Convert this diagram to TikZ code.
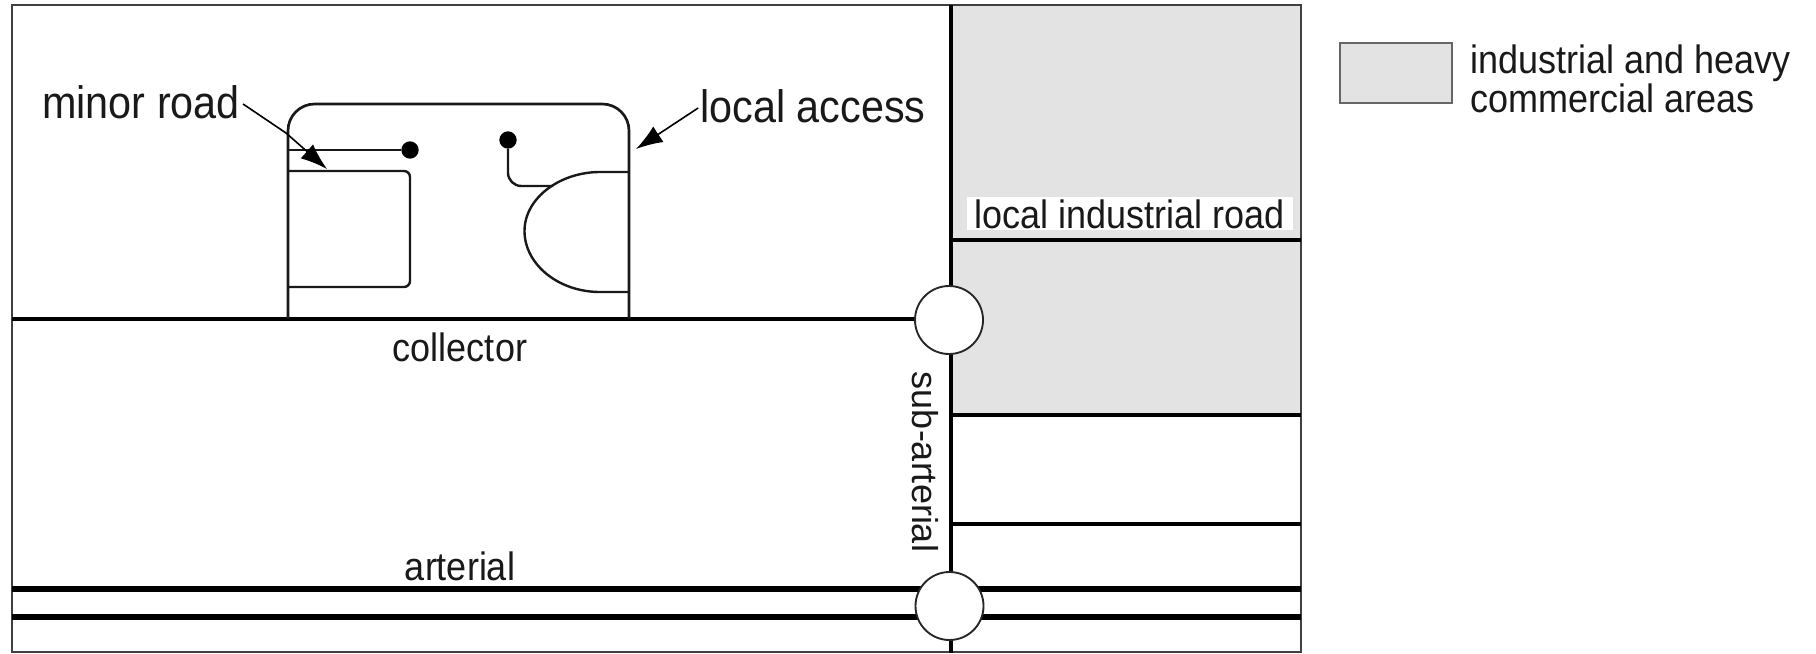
\documentclass[tikz,border=0pt]{standalone}
\usepackage{fontspec}
\setmainfont{Liberation Sans}
\usetikzlibrary{arrows.meta}
\tikzset{
  lbl/.style={inner sep=0pt,font=\fontsize{27}{27}\selectfont,text=black!90,yscale=1.1,transform shape},
  biglbl/.style={lbl,font=\fontsize{31}{31}\selectfont},
  sidelbl/.style={inner sep=0pt,font=\fontsize{27}{27}\selectfont,text=black!90,rotate=-90},
  frameline/.style={line width=1.6pt,draw=black!75},
  road/.style={line width=2pt,draw=black!90},
  mainroad/.style={line width=3pt,draw=black},
  artroad/.style={line width=4pt,draw=black},
  midroad/.style={line width=2.7pt,draw=black},
  thinroad/.style={line width=1.8pt,draw=black!90},
  area/.style={fill=black!11,draw=none},
  junction/.style={circle,draw=black!85,line width=1.4pt,fill=white,minimum size=51pt,inner sep=0pt},
  stub/.style={circle,fill=black,inner sep=0pt,minimum size=13pt},
  pointer/.style={line width=1.2pt,draw=black,-{Latex[length=20pt,width=14pt]}}
}
\begin{document}
\begin{tikzpicture}[x=0.75pt,y=-0.75pt]
\useasboundingbox (0,0) rectangle (1816,653);
\fill[white] (0,0) rectangle (1816,653);
% shaded areas
\fill[area] (951,5) rectangle (1301,415);
\fill[area] (1340,43) rectangle (1452,103);
\draw[frameline,draw=black!60] (1340,43) rectangle (1452,103);
% white label backing
\node[fill=white,inner sep=0pt,minimum width=244.5pt,minimum height=25pt] (lirbg) at (1130,213.5) {};
% frame
\coordinate (tl) at (12,5); \coordinate (tr) at (1301,5);
\coordinate (bl) at (12,652); \coordinate (br) at (1301,652);
\draw[frameline] (tl) -- (tr) -- (br) -- (bl) -- cycle;
% main roads
\coordinate (vt) at (951,5); \coordinate (vb) at (951,653);
\draw[mainroad] (vt) -- (vb);
\coordinate (cl) at (12,319); \coordinate (cr) at (951,319);
\draw[mainroad] (cl) -- (cr);
\coordinate (a1l) at (12,589); \coordinate (a1r) at (1301,589);
\coordinate (a2l) at (12,617); \coordinate (a2r) at (1301,617);
\draw[artroad] (a1l) -- (a1r);
\draw[artroad] (a2l) -- (a2r);
\coordinate (i1l) at (951,240); \coordinate (i1r) at (1301,240);
\coordinate (i2l) at (951,415); \coordinate (i2r) at (1301,415);
\coordinate (i3l) at (951,524); \coordinate (i3r) at (1301,524);
\draw[mainroad] (i1l) -- (i1r);
\draw[midroad] (i2l) -- (i2r);
\draw[midroad] (i3l) -- (i3r);
% local access loop
\coordinate (la) at (288,319); \coordinate (lb) at (629,319);
\draw[road,rounded corners=20pt] (la) -- (288,104) -- (629,104) -- (lb);
% court on the left
\draw[thinroad,rounded corners=4.5pt] (288,171) -- (410,171) -- (410,287) -- (288,287);
% minor road cul-de-sac
\node[stub] (d1) at (410,150) {};
\node[stub] (d2) at (508,140) {};
\coordinate (m1) at (288,150);
\draw[road] (m1) -- (d1);
% half-round
\coordinate (h1) at (629,172); \coordinate (h2) at (629,292);
\draw[thinroad] (h1) -- (600,172) .. controls (560,172) and (524.5,198) .. (524.5,231) .. controls (524.5,264) and (558,292) .. (600,292) -- (h2);
\coordinate (h3) at (553,186);
\draw[thinroad,rounded corners=10pt] (d2) -- (508,186) -- (h3);
% junctions
\node[junction] (j1) at (949,320) {};
\node[junction] (j2) at (949.5,606) {};
% labels
\node[biglbl] (minor) at (141,102) {minor road};
\node[biglbl] (local) at (813,106) {local access};
\node[lbl] (coll) at (460,347) {collector};
\node[lbl] (art) at (460,566) {arterial};
\node[lbl] (lir) at (1130,214) {local industrial road};
\node[sidelbl] (sub) at (925,462) {sub-arterial};
\node[lbl,align=left,anchor=west,font=\fontsize{27}{26.5}\selectfont] (leg) at (1470,79) {industrial and heavy\\commercial areas};
% pointers
\coordinate (pm1) at (286,133); \coordinate (pm2) at (327,169);
\coordinate (pl) at (636,149);
\draw[pointer] (minor.east) ++(3,2) -- (pm1) -- (pm2);
\draw[pointer] (local.west) ++(-2,2) -- (pl);
\end{tikzpicture}
\end{document}
